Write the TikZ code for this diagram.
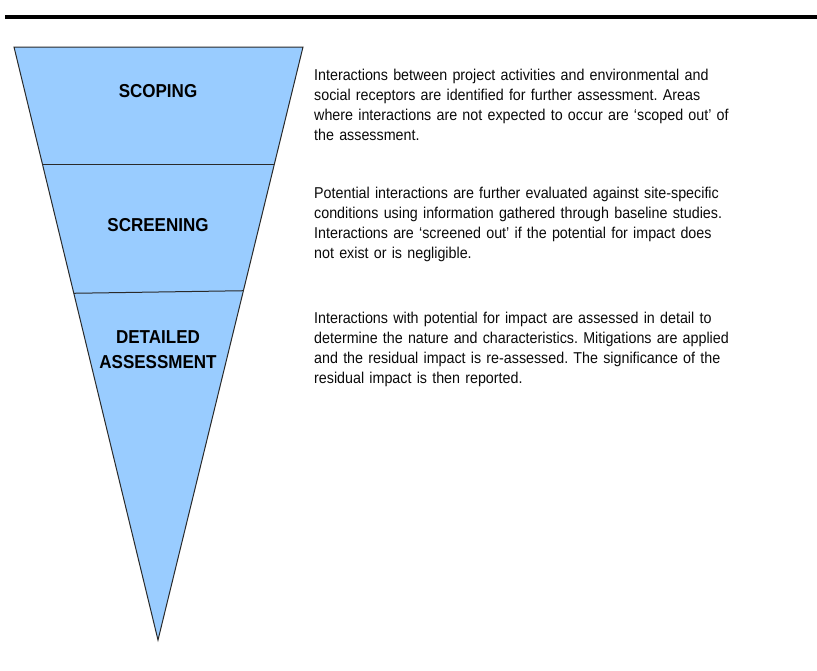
\documentclass[tikz,border=0pt]{standalone}
\usepackage{fontspec}
\setmainfont{Liberation Sans}[FakeStretch=0.91]
\usetikzlibrary{calc}
\definecolor{funnelblue}{HTML}{99CCFF}
\definecolor{edgegray}{HTML}{2A2A2A}
\definecolor{textdark}{HTML}{0A0A0A}
\begin{document}
\frenchspacing
\begin{tikzpicture}[x=1pt,y=-1pt,
  stagelabel/.style={font=\bfseries\fontsize{18.7}{25}\selectfont, align=center, inner sep=0pt, text=black},
  desctext/.style={font=\fontsize{15.7}{20.2}\selectfont, align=left, anchor=north west, inner sep=0pt, text width=470pt, text=textdark},
  edgeline/.style={draw=edgegray, line width=1pt}]
\useasboundingbox (0,0) rectangle (817,670);
% top rule
\coordinate (ruleL) at (5,17);
\coordinate (ruleR) at (817,17);
\draw[line width=4pt] (ruleL) -- (ruleR);
% funnel
\coordinate (tl) at (14,47);
\coordinate (tr) at (303,47);
\coordinate (apex) at (158,640);
\filldraw[fill=funnelblue, edgeline, line join=miter] (tl) -- (tr) -- (apex) -- cycle;
\coordinate (d1L) at ($(tl)!0.1973!(apex)$);
\coordinate (d1R) at ($(tr)!0.1973!(apex)$);
\coordinate (d2L) at ($(tl)!0.4153!(apex)$);
\coordinate (d2R) at ($(tr)!0.4110!(apex)$);
\draw[edgeline] (d1L) -- (d1R);
\draw[edgeline] (d2L) -- (d2R);
% stage labels
\node[stagelabel] (scoping) at (158,91) {SCOPING};
\node[stagelabel] (screening) at (158,225) {SCREENING};
\node[stagelabel] (detailed) at (158,350) {DETAILED\\ASSESSMENT};
% descriptions
\node[desctext] (scopingtext) at (314,68.5) {Interactions between project activities and environmental and\\social receptors are identified for further assessment. Areas\\where interactions are not expected to occur are ‘scoped out’ of\\the assessment.};
\node[desctext] (screeningtext) at (314,186.5) {Potential interactions are further evaluated against site-specific\\conditions using information gathered through baseline studies.\\Interactions are ‘screened out’ if the potential for impact does\\not exist or is negligible.};
\node[desctext] (detailedtext) at (314,311.5) {Interactions with potential for impact are assessed in detail to\\determine the nature and characteristics. Mitigations are applied\\and the residual impact is re-assessed. The significance of the\\residual impact is then reported.};
\end{tikzpicture}
\end{document}
